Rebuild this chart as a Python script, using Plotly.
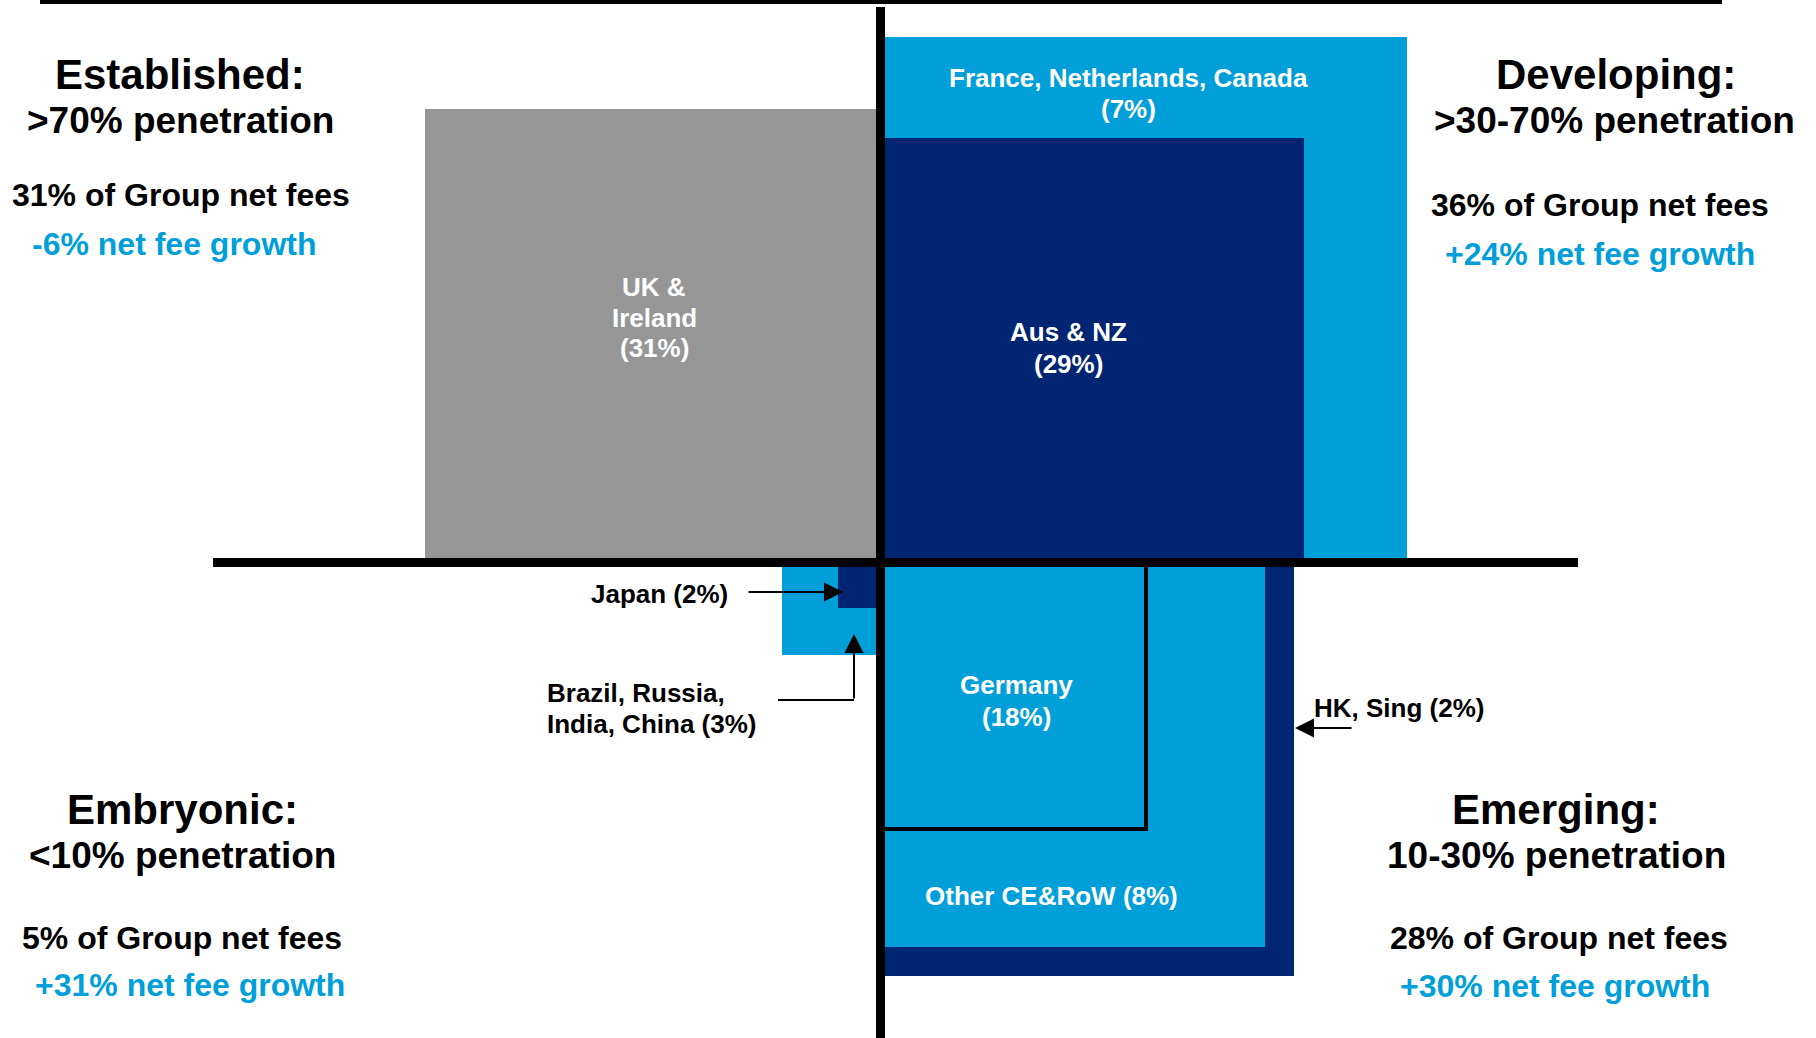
import plotly.graph_objects as go

# ---------------- data ----------------
quadrant_titles = ["Established:", "Developing:", "Embryonic:", "Emerging:"]
quadrant_penetration = [">70% penetration", ">30-70% penetration", "<10% penetration", "10-30% penetration"]
quadrant_fee_share = [31, 36, 5, 28]
quadrant_growth = [-6, 24, 31, 30]

region_lines = [["UK &", "Ireland"], ["France, Netherlands, Canada"], ["Aus & NZ"],
                ["Japan"], ["Brazil, Russia,", "India, China"], ["HK, Sing"],
                ["Other CE&RoW"], ["Germany"]]
region_share = [31, 7, 29, 2, 3, 2, 8, 18]

# ---------------- layout geometry (diagram coordinates, px space) ----------------
W, H = 1816, 1038
LIGHT = "#009FDA"
NAVY = "#002673"
GRAY = "#969696"

# rectangles drawn in order (back to front): index into region lists
rect_region = [0, 1, 2, 5, 6, 7, 4, 3]
rect_x0 = [425, 880, 880, 880, 880, 880, 782, 838]
rect_x1 = [880, 1407, 1304, 1294, 1265, 1146, 880, 880]
rect_y0 = [109, 37, 138, 562, 562, 562, 562, 562]
rect_y1 = [562, 562, 562, 976, 947, 829, 655, 608]
rect_fill = [GRAY, LIGHT, NAVY, NAVY, LIGHT, LIGHT, LIGHT, NAVY]
rect_border = [0, 0, 0, 0, 0, 4, 0, 0]

FONT = "Liberation Sans, Arial, sans-serif"

fig = go.Figure()
shapes = []
for i in range(len(rect_region)):
    shapes.append(dict(type="rect", xref="x", yref="y",
                       x0=rect_x0[i], x1=rect_x1[i], y0=rect_y0[i], y1=rect_y1[i],
                       fillcolor=rect_fill[i],
                       line=dict(color="black", width=rect_border[i]) if rect_border[i] else dict(width=0),
                       layer="above"))

# quadrant axes (thick black lines)
for (x0, x1, y0, y1) in [(40, 1722, 0, 4), (876, 885, 7, H), (213, 1578, 558, 567)]:
    shapes.append(dict(type="rect", xref="x", yref="y", x0=x0, x1=x1, y0=y0, y1=y1,
                       fillcolor="black", line=dict(width=0), layer="above"))
# BRIC connector horizontal segment
shapes.append(dict(type="line", xref="x", yref="y", x0=778, x1=854, y0=700, y1=700,
                   line=dict(color="black", width=2), layer="above"))

annotations = []


def txt(x, y, text, size, color="black", xanchor="center"):
    annotations.append(dict(x=x, y=y, xref="x", yref="y", text="<b>" + text + "</b>",
                            showarrow=False, xanchor=xanchor, yanchor="middle",
                            font=dict(family=FONT, size=size, color=color)))


# quadrant descriptions
quad_cx = [180, 1616, 182, 1556]
quad_y = [(74, 120, 195, 244), (74, 120, 205, 254), (809, 855, 938, 985), (809, 855, 938, 986)]
quad_cx2 = [181, 1600, 182, 1559]
quad_cx3 = [174, 1600, 190, 1555]
for i in range(4):
    y1, y2, y3, y4 = quad_y[i]
    txt(quad_cx[i], y1, quadrant_titles[i], 42)
    txt(quad_cx[i] - (0 if i != 1 else 2), y2, quadrant_penetration[i], 37)
    txt(quad_cx2[i], y3, f"{quadrant_fee_share[i]}% of Group net fees", 32)
    txt(quad_cx3[i], y4, f"{quadrant_growth[i]:+d}% net fee growth", 32, color=LIGHT)

# region labels inside boxes
WHITE = "white"
txt(654, 287, region_lines[0][0], 26, WHITE)
txt(654, 318, region_lines[0][1], 26, WHITE)
txt(654, 348, f"({region_share[0]}%)", 26, WHITE)
txt(1128, 78, region_lines[1][0], 26, WHITE)
txt(1128, 109, f"({region_share[1]}%)", 26, WHITE)
txt(1068, 332, region_lines[2][0], 26, WHITE)
txt(1068, 364, f"({region_share[2]}%)", 26, WHITE)
txt(1016, 685, region_lines[7][0], 26, WHITE)
txt(1016, 717, f"({region_share[7]}%)", 26, WHITE)
txt(1051, 896, f"{region_lines[6][0]} ({region_share[6]}%)", 26, WHITE)

# outside labels
txt(659, 594, f"{region_lines[3][0]} ({region_share[3]}%)", 26)
txt(545, 693, region_lines[4][0], 26, xanchor="left")
txt(545, 724, f"{region_lines[4][1]} ({region_share[4]}%)", 26, xanchor="left")
txt(1312, 708, f"{region_lines[5][0]} ({region_share[5]}%)", 26, xanchor="left")

# arrows
for (hx, hy, tx, ty) in [(843, 592, 747, 592), (854, 634, 854, 700), (1295, 728, 1353, 728)]:
    annotations.append(dict(x=hx, y=hy, ax=tx, ay=ty, xref="x", yref="y", axref="x", ayref="y",
                            text="", showarrow=True, arrowhead=2, arrowsize=1.9, arrowwidth=2,
                            arrowcolor="black", standoff=0, startstandoff=0))

fig.update_layout(
    width=W, height=H,
    margin=dict(l=0, r=0, t=0, b=0),
    paper_bgcolor="white", plot_bgcolor="white",
    xaxis=dict(range=[0, W], visible=False, fixedrange=True),
    yaxis=dict(range=[H, 0], visible=False, fixedrange=True),
    shapes=shapes, annotations=annotations, showlegend=False,
)
fig.write_html("out.html", config={"displayModeBar": False},
               post_script="document.body.style.margin='0';document.body.style.overflow='hidden';")
